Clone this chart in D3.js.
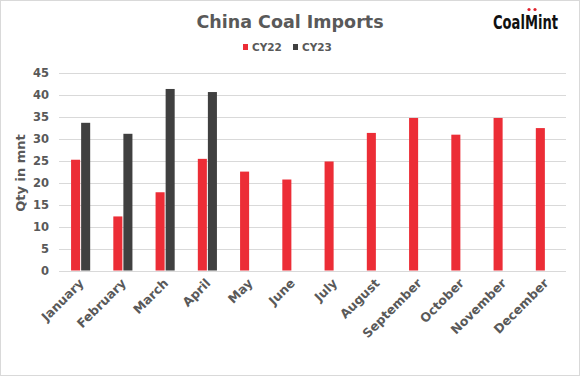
<!DOCTYPE html>
<html>
<head>
<meta charset="utf-8">
<script src="https://cdn.jsdelivr.net/npm/d3@7"></script>
<style>
  body { margin: 0; background: #fff; }
  text { font-family: "DejaVu Sans", "Open Sans", sans-serif; font-weight: 700; }
</style>
</head>
<body>
<script>
const w = 580, h = 376;

const months = ['January', 'February', 'March', 'April', 'May', 'June', 'July',
    'August', 'September', 'October', 'November', 'December'];
const series = ['CY22', 'CY23'];
const cy22 = [25.2, 12.3, 17.8, 25.4, 22.5, 20.7, 24.8, 31.3, 34.7, 30.9, 34.7, 32.4];
const cy23 = [33.6, 31.1, 41.3, 40.6, null, null, null, null, null, null, null, null];
const yTicks = [0, 5, 10, 15, 20, 25, 30, 35, 40, 45];
const colors = { CY22: '#ec2d36', CY23: '#404040' };

const rows = months.map((m, i) => ({ month: m, CY22: cy22[i], CY23: cy23[i] }));

const svg = d3.select('body').append('svg')
    .attr('width', w)
    .attr('height', h);

svg.append('rect')
    .attr('x', 0.5).attr('y', 0.5)
    .attr('width', w - 1).attr('height', h - 1)
    .attr('fill', '#fff')
    .attr('stroke', '#d9d9d9');

const x0 = d3.scaleBand().domain(months).range([59.5, 566.5]).paddingInner(0.5).paddingOuter(0.25);
const x1 = d3.scaleBand().domain(series).range([0, x0.bandwidth()]).padding(0.1);
const y = d3.scaleLinear().domain([0, 45]).range([270.5, 72.7]);

// gridlines
svg.append('g')
    .selectAll('line')
    .data(yTicks)
    .join('line')
    .attr('x1', 59).attr('x2', 566)
    .attr('y1', d => Math.round(y(d)) + 0.5)
    .attr('y2', d => Math.round(y(d)) + 0.5)
    .attr('stroke', '#d9d9d9')
    .attr('stroke-width', 1);

// y labels
svg.append('g')
    .selectAll('text')
    .data(yTicks)
    .join('text')
    .attr('x', 49)
    .attr('y', d => y(d))
    .attr('dy', '0.35em')
    .attr('text-anchor', 'end')
    .attr('font-size', 11.5)
    .attr('fill', '#595959')
    .text(d => d);

// bars
const groups = svg.append('g')
    .selectAll('g')
    .data(rows)
    .join('g')
    .attr('transform', d => `translate(${x0(d.month)},0)`);

groups.selectAll('rect')
    .data(d => series.filter(s => d[s] != null).map(s => ({ key: s, value: d[s] })))
    .join('rect')
    .attr('x', d => x1(d.key))
    .attr('y', d => y(d.value))
    .attr('width', x1.bandwidth())
    .attr('height', d => y(0) - y(d.value))
    .attr('fill', d => colors[d.key]);

// x labels
svg.append('g')
    .selectAll('text')
    .data(months)
    .join('text')
    .attr('transform', d => `translate(${x0(d) + x0.bandwidth() / 2 + 4},${284}) rotate(-45)`)
    .attr('text-anchor', 'end')
    .attr('font-size', 12.5)
    .attr('fill', '#595959')
    .text(d => d);

// axis title
svg.append('text')
    .attr('transform', 'translate(25,173) rotate(-90)')
    .attr('text-anchor', 'middle')
    .attr('font-size', 13)
    .attr('fill', '#595959')
    .text('Qty in mnt');

// title
svg.append('text')
    .attr('x', 290).attr('y', 28)
    .attr('text-anchor', 'middle')
    .attr('font-size', 17.5)
    .attr('fill', '#595959')
    .text('China Coal Imports');

// legend
const legend = svg.append('g')
    .selectAll('g')
    .data(series)
    .join('g')
    .attr('transform', (d, i) => `translate(${243 + i * 50},0)`);

legend.append('rect')
    .attr('x', 0).attr('y', 44)
    .attr('width', 5).attr('height', 6)
    .attr('fill', d => colors[d]);

legend.append('text')
    .attr('x', 9).attr('y', 51)
    .attr('font-size', 10.5)
    .attr('fill', '#595959')
    .text(d => d);

// logo, squeezed horizontally to a 65px width
const logo = svg.append('text')
    .attr('font-size', 20)
    .attr('fill', '#111')
    .text('CoalMint');
const sx = 65 / logo.node().getComputedTextLength();
logo.attr('transform', `translate(493,29) scale(${sx},1)`);

svg.append('g')
    .selectAll('circle')
    .data([529, 535])
    .join('circle')
    .attr('cx', d => d).attr('cy', 9.5)
    .attr('r', 1.6)
    .attr('fill', '#e0202a');
</script>
</body>
</html>
